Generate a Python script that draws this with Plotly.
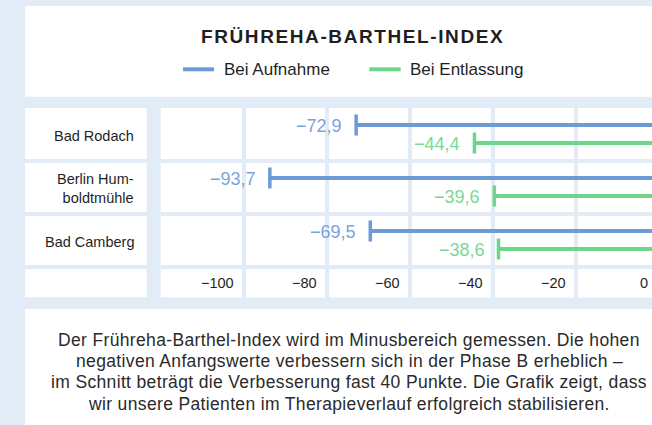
import plotly.graph_objects as go

# ---------------- data ----------------
categories = ["Bad Rodach", "Berlin Hum-<br>boldtmühle", "Bad Camberg"]
aufnahme = [-72.9, -93.7, -69.5]
entlassung = [-44.4, -39.6, -38.6]
series_names = ["Bei Aufnahme", "Bei Entlassung"]
tick_values = [-100, -80, -60, -40, -20, 0]
title_text = "FRÜHREHA-BARTHEL-INDEX"
footer_lines = [
    "Der Frühreha-Barthel-Index wird im Minusbereich gemessen. Die hohen",
    "negativen Anfangswerte verbessern sich in der Phase B erheblich –",
    "im Schnitt beträgt die Verbesserung fast 40 Punkte. Die Grafik zeigt, dass",
    "wir unsere Patienten im Therapieverlauf erfolgreich stabilisieren.",
]

# ---------------- style ----------------
W, H = 652, 425
BG = "#e1ecf7"
BLUE = "#6c9bd5"
BLUE_TXT = "#79a5dc"
GREEN = "#6dd68b"
GREEN_TXT = "#78d996"
DARK = "#1f1f1f"
FONT = "Liberation Sans"

def px(xp):
    return xp / W

def py(yp):
    return 1 - yp / H

X_LEFT_PX = 160.7
PX_PER_UNIT = 4.15
X_START = -120
X_END = X_START + (W - X_LEFT_PX) / PX_PER_UNIT
Y_TOP_PX, Y_BOT_PX = 108, 297.5
ROW_PX = 53.0
Y_TOP = -0.5
Y_BOT = 2.5 + (Y_BOT_PX - (Y_TOP_PX + 3 * ROW_PX)) / ROW_PX
OFF_B, OFF_G = -0.18, 0.16

def fmt(v, dec=1):
    s = f"{abs(v):.{dec}f}".replace(".", ",")
    return ("−" if v < 0 else "") + s

def x_paper(v):
    # same linear scale as the x axis (used for a tick that lies just past the visible edge)
    d0 = X_LEFT_PX / W
    return d0 + (v - X_START) / (X_END - X_START) * (1 - d0)

fig = go.Figure()

rows = list(range(len(categories)))
for vals, off, col, name in [(aufnahme, OFF_B, BLUE, series_names[0]),
                             (entlassung, OFF_G, GREEN, series_names[1])]:
    xs, ys = [], []
    for i, v in zip(rows, vals):
        xs += [v, 0, None]
        ys += [i + off, i + off, None]
    fig.add_trace(go.Scatter(x=xs, y=ys, mode="lines", name=name,
                             line=dict(color=col, width=4), hoverinfo="skip",
                             showlegend=False))
    fig.add_trace(go.Scatter(x=vals, y=[i + off for i in rows], mode="markers",
                             marker=dict(symbol="line-ns", size=15,
                                         line=dict(color=col, width=3.5)),
                             hoverinfo="skip", showlegend=False))

shapes = []
shapes.append(dict(type="rect", xref="paper", yref="paper", x0=px(25), x1=1.0,
                   y0=py(96.7), y1=py(6), fillcolor="white", line_width=0, layer="below"))
shapes.append(dict(type="rect", xref="paper", yref="paper", x0=px(25), x1=1.0,
                   y0=-0.02, y1=py(309), fillcolor="white", line_width=0, layer="below"))
gh = 2.0 / ROW_PX
for i in rows:
    y0 = i - 0.5 + (gh if i > 0 else 0)
    y1 = i + 0.5 - gh
    shapes.append(dict(type="rect", xref="paper", yref="y", x0=px(25), x1=px(146.7),
                       y0=y0, y1=y1, fillcolor="white", line_width=0, layer="below"))
shapes.append(dict(type="rect", xref="paper", yref="y", x0=px(25), x1=px(146.7),
                   y0=len(rows) - 0.5 + gh, y1=Y_BOT, fillcolor="white", line_width=0,
                   layer="below"))
shapes.append(dict(type="line", xref="paper", yref="paper", x0=px(183), x1=px(214),
                   y0=py(69.3), y1=py(69.3), line=dict(color=BLUE, width=4)))
shapes.append(dict(type="line", xref="paper", yref="paper", x0=px(369.3), x1=px(400.7),
                   y0=py(69.3), y1=py(69.3), line=dict(color=GREEN, width=4)))

ann = []
ann.append(dict(xref="paper", yref="paper", x=px(352), y=py(36.5), xanchor="center",
                yanchor="middle", showarrow=False,
                text=f'<span style="letter-spacing:1.6px">{title_text}</span>',
                font=dict(family=FONT, size=19, color=DARK, weight=700)))
ann.append(dict(xref="paper", yref="paper", x=px(221.5), y=py(70), xanchor="left",
                yanchor="middle", showarrow=False, text=series_names[0],
                font=dict(family=FONT, size=17, color=DARK)))
ann.append(dict(xref="paper", yref="paper", x=px(408), y=py(70), xanchor="left",
                yanchor="middle", showarrow=False, text=series_names[1],
                font=dict(family=FONT, size=17, color=DARK)))
for i, c in zip(rows, categories):
    ann.append(dict(xref="paper", yref="y", x=px(135.5), y=i, xanchor="right",
                    yanchor="middle", align="right", showarrow=False, text=c, yshift=-1,
                    font=dict(family=FONT, size=14.5, color=DARK)))
for vals, off, col in [(aufnahme, OFF_B, BLUE_TXT), (entlassung, OFF_G, GREEN_TXT)]:
    for i, v in zip(rows, vals):
        ann.append(dict(xref="x", yref="y", x=v, y=i + off, xanchor="right",
                        yanchor="middle", showarrow=False, text=fmt(v), xshift=-12,
                        yshift=-1, font=dict(family=FONT, size=18, color=col)))
for t in tick_values:
    txt = fmt(t, 0) if t else "0"
    if t <= X_END:
        ann.append(dict(xref="x", yref="paper", x=t, y=py(282.7), xanchor="right",
                        yanchor="middle", showarrow=False, text=txt, xshift=-7.5,
                        font=dict(family=FONT, size=14.5, color=DARK)))
    else:
        ann.append(dict(xref="paper", yref="paper", x=x_paper(t), y=py(282.7),
                        xanchor="right", yanchor="middle", showarrow=False, text=txt,
                        xshift=-9, font=dict(family=FONT, size=14.5, color=DARK)))
for k, line in enumerate(footer_lines):
    ann.append(dict(xref="paper", yref="paper", x=px(349), y=py(339.5 + 21.4 * k),
                    xanchor="center", yanchor="middle", showarrow=False,
                    text=f'<span style="letter-spacing:0.35px">{line}</span>',
                    font=dict(family=FONT, size=17.5, color="#2a2a2a")))

fig.update_layout(
    width=W, height=H, autosize=False,
    margin=dict(l=0, r=0, t=0, b=0, pad=0),
    paper_bgcolor=BG, plot_bgcolor="white",
    shapes=shapes, annotations=ann, showlegend=False,
    xaxis=dict(domain=[px(X_LEFT_PX), 1], range=[X_START, X_END],
               tickvals=tick_values[:-1], showticklabels=False, ticks="",
               showgrid=True, gridcolor=BG, gridwidth=4, zeroline=False,
               showline=False, fixedrange=True),
    yaxis=dict(domain=[py(Y_BOT_PX), py(Y_TOP_PX)], range=[Y_BOT, Y_TOP],
               tickvals=[0.5, 1.5, 2.5], showticklabels=False, ticks="",
               showgrid=True, gridcolor=BG, gridwidth=4, zeroline=False,
               showline=False, fixedrange=True),
)

fig.write_html("out.html", config={"displayModeBar": False},
               post_script="document.body.style.margin='0';document.body.style.overflow='hidden';")
